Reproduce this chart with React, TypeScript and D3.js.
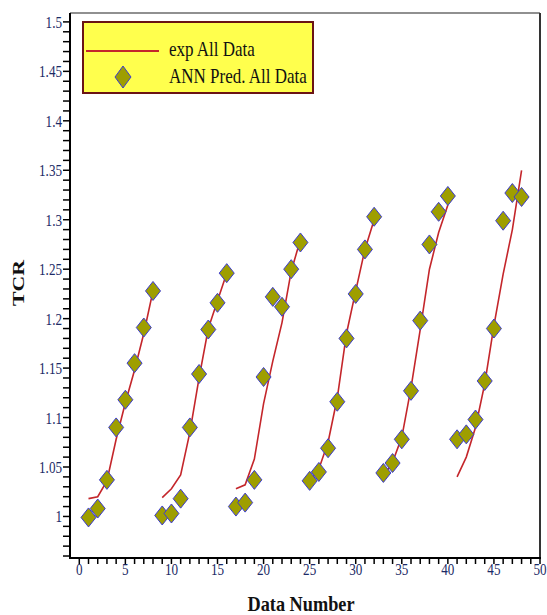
import React from "react";
import * as d3 from "d3";

const dataNumber: number[] = d3.range(1, 49);
const groupSize = 8;

const expValues: number[] = [
  1.018, 1.02, 1.036, 1.078, 1.115, 1.148, 1.185, 1.228,
  1.019, 1.028, 1.042, 1.085, 1.14, 1.19, 1.218, 1.246,
  1.028, 1.032, 1.058, 1.114, 1.157, 1.196, 1.248, 1.28,
  1.035, 1.048, 1.075, 1.12, 1.185, 1.228, 1.27, 1.3,
  1.04, 1.055, 1.08, 1.13, 1.189, 1.25, 1.287, 1.315,
  1.04, 1.06, 1.09, 1.134, 1.193, 1.245, 1.29, 1.35,
];

const annValues: number[] = [
  0.999, 1.008, 1.037, 1.09, 1.118, 1.155, 1.191, 1.228,
  1.001, 1.003, 1.018, 1.09, 1.144, 1.189, 1.216, 1.246,
  1.01, 1.014, 1.037, 1.141, 1.222, 1.212, 1.25, 1.277,
  1.036, 1.045, 1.069, 1.116, 1.18, 1.225, 1.27, 1.303,
  1.044, 1.054, 1.078, 1.127, 1.198, 1.275, 1.308, 1.324,
  1.078, 1.083, 1.098, 1.137, 1.19, 1.299, 1.327, 1.323,
];

const xTickLabels: number[] = [0, 5, 10, 15, 20, 25, 30, 35, 40, 45, 50];
const yTickLabels: number[] = [1, 1.05, 1.1, 1.15, 1.2, 1.25, 1.3, 1.35, 1.4, 1.45, 1.5];
const legendLabels: string[] = ["exp All Data", "ANN Pred. All Data"];

const W = 547;
const H = 615;
const left = 70, right = 540, top = 13, bottom = 558;

const x = d3.scaleLinear().domain([-0.9, 50]).range([left + 1, right]);
const y = d3.scaleLinear().domain([0.958, 1.509]).range([bottom, top]);

const tickColor = "#1c2a66";
const fontFam = "'Liberation Serif', 'Times New Roman', serif";

function diamond(cx: number, cy: number, hw: number, hh: number) {
  return `M${cx},${cy - hh}L${cx + hw},${cy}L${cx},${cy + hh}L${cx - hw},${cy}Z`;
}

export default function App() {
  const groups: { xs: number[]; vs: number[] }[] = [];
  for (let g = 0; g < dataNumber.length / groupSize; g++) {
    groups.push({
      xs: dataNumber.slice(g * groupSize, (g + 1) * groupSize),
      vs: expValues.slice(g * groupSize, (g + 1) * groupSize),
    });
  }
  const lineGen = d3
    .line<[number, number]>()
    .x((d) => x(d[0]))
    .y((d) => y(d[1]));

  const yMinor = d3.range(0.96, 1.5001, 0.01);
  const xMinor = d3.range(0, 50.001, 1);

  return (
    <svg width={W} height={H} style={{ position: "absolute", left: 0, top: 0, background: "#fff" }}>
      <rect x={0} y={0} width={W} height={H} fill="#fff" />
      {groups.map((g, gi) => (
        <path
          key={gi}
          d={lineGen(g.xs.map((xv, i) => [xv, g.vs[i]] as [number, number])) || ""}
          fill="none"
          stroke="#c4262b"
          strokeWidth={1.6}
        />
      ))}
      {dataNumber.map((xv, i) => (
        <path
          key={i}
          d={diamond(x(xv), y(annValues[i]), 7.5, 9.5)}
          fill="#9e9e00"
          stroke="#3b3bd0"
          strokeWidth={1}
        />
      ))}
      <line x1={left} x2={right} y1={top} y2={top} stroke="#222" strokeWidth={1.2} />
      <line x1={right} x2={right} y1={top} y2={bottom} stroke="#333" strokeWidth={2} />
      <line x1={left} x2={left} y1={top} y2={bottom + 1} stroke="#000" strokeWidth={2} />
      <line x1={left - 1} x2={right + 1} y1={bottom} y2={bottom} stroke="#000" strokeWidth={2} />
      {yMinor.map((v, i) => (
        <line key={i} x1={left - 7} x2={left} y1={y(v)} y2={y(v)} stroke="#000" strokeWidth={1.5} />
      ))}
      {yTickLabels.map((v, i) => (
        <text
          key={i}
          transform={`translate(${left - 8},${y(v) + 6}) scale(0.82,1)`}
          textAnchor="end"
          fontFamily={fontFam}
          fontSize={16}
          fill={tickColor}
        >
          {String(v)}
        </text>
      ))}
      {xMinor.map((v, i) => (
        <line key={i} x1={x(v)} x2={x(v)} y1={bottom} y2={bottom + 6} stroke="#000" strokeWidth={1.5} />
      ))}
      {xTickLabels.map((v, i) => (
        <text
          key={i}
          transform={`translate(${x(v)},${bottom + 17}) scale(0.82,1)`}
          textAnchor="middle"
          fontFamily={fontFam}
          fontSize={16}
          fill={tickColor}
        >
          {String(v)}
        </text>
      ))}
      <text
        transform={`translate(301,611) scale(0.87,1)`}
        textAnchor="middle"
        fontFamily={fontFam}
        fontWeight="bold"
        fontSize={21}
        fill="#111"
      >
        Data Number
      </text>
      <text
        transform={`translate(24,283) rotate(-90) scale(1.28,1)`}
        textAnchor="middle"
        fontFamily={fontFam}
        fontWeight="bold"
        fontSize={17}
        fill="#111"
      >
        TCR
      </text>
      <rect x={83} y={22} width={230} height={71} fill="#ffff4d" stroke="#6b1414" strokeWidth={2} />
      <line x1={86} x2={159} y1={51} y2={51} stroke="#c4262b" strokeWidth={2} />
      <path d={diamond(123, 77, 8, 11)} fill="#9e9e00" stroke="#3b3bd0" strokeWidth={1} />
      <text transform="translate(169,56) scale(0.85,1)" fontFamily={fontFam} fontSize={20} fill="#111">
        {legendLabels[0]}
      </text>
      <text transform="translate(169,83) scale(0.85,1)" fontFamily={fontFam} fontSize={20} fill="#111">
        {legendLabels[1]}
      </text>
    </svg>
  );
}
